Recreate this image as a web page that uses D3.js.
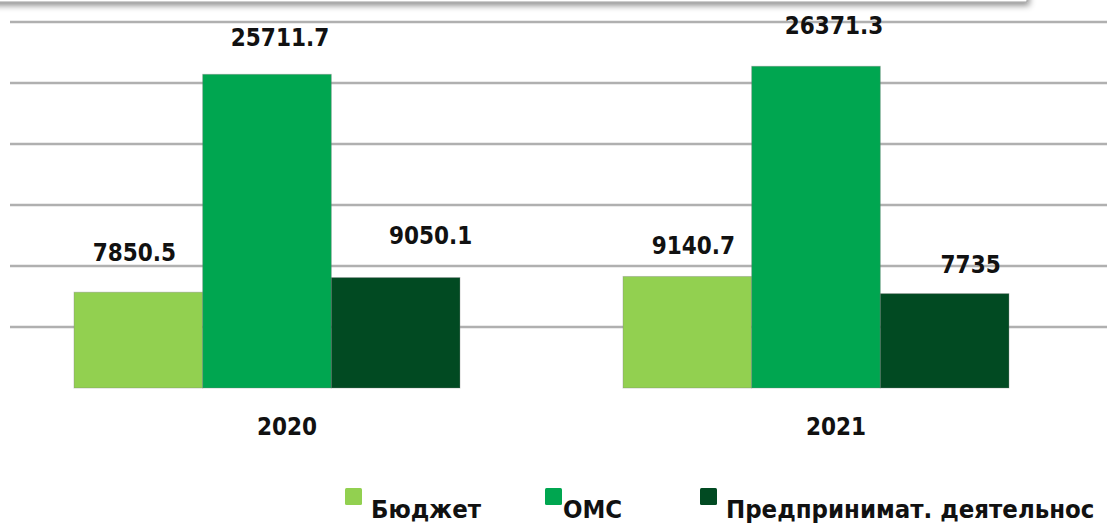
<!DOCTYPE html>
<html lang="ru">
  <head>
    <meta charset="UTF-8" />
    <title>Бюджет / ОМС / Предпринимат. деятельность</title>
    <script src="https://d3js.org/d3.v7.min.js"></script>
    <style>
      body {
        margin: 0;
        background: #fff;
      }
      svg text {
        font-family: "DejaVu Sans Condensed", "DejaVu Sans", sans-serif;
        font-stretch: condensed;
        font-weight: 700;
        fill: #111;
      }
    </style>
  </head>
  <body>
    <svg id="chart" width="1107" height="526"></svg>
    <script>
      // Data
      const years = ["2020", "2021"];
      const series = ["Бюджет", "ОМС", "Предпринимат. деятельнос"];
      const budget = [7850.5, 9140.7];
      const oms = [25711.7, 26371.3];
      const business = [9050.1, 7735];
      const valueLabels = [
        ["7850.5", "25711.7", "9050.1"],
        ["9140.7", "26371.3", "7735"],
      ];
      const yTicks = [5000, 10000, 15000, 20000, 25000, 30000];

      const colors = ["#92d050", "#00a650", "#014a22"];

      // label nudges (the original labels were moved by hand)
      const labelDx = [
        [-4, 13, 35],
        [6, 18, 26],
      ];
      const labelGap = [
        [31, 28, 34],
        [22, 32, 21],
      ];

      const width = 1107;
      const baseY = 388;
      const topY = 22;

      const svg = d3.select("#chart");

      // shadowed frame at the top edge
      const defs = svg.append("defs");
      const shadow = defs
        .append("filter")
        .attr("id", "shadow")
        .attr("x", "-10%")
        .attr("y", "-50%")
        .attr("width", "120%")
        .attr("height", "200%");
      shadow
        .append("feDropShadow")
        .attr("dx", 2)
        .attr("dy", 3)
        .attr("stdDeviation", 3)
        .attr("flood-color", "#000")
        .attr("flood-opacity", 0.45);

      svg
        .append("rect")
        .attr("x", -20)
        .attr("y", -60)
        .attr("width", 1047)
        .attr("height", 62)
        .attr("fill", "#fff")
        .attr("stroke", "#9a9a9a")
        .attr("filter", "url(#shadow)");

      // Scales
      const x = d3
        .scaleBand()
        .domain(years)
        .range([-7.5, 1090.5])
        .paddingInner(0.297)
        .paddingOuter(0.1485);

      const xs = d3.scaleBand().domain(series).range([0, x.bandwidth()]);

      const y = d3.scaleLinear().domain([0, 30000]).range([baseY, topY]);

      // Gridlines
      svg
        .append("g")
        .selectAll("line")
        .data(yTicks)
        .join("line")
        .attr("x1", 10)
        .attr("x2", width)
        .attr("y1", (d) => y(d))
        .attr("y2", (d) => y(d))
        .attr("stroke", "#b0b0b0")
        .attr("stroke-width", 2.5);

      const rows = years.map((yr, i) => ({
        year: yr,
        values: [budget[i], oms[i], business[i]],
      }));

      // Bars
      const groups = svg
        .append("g")
        .selectAll("g")
        .data(rows)
        .join("g")
        .attr("transform", (d) => `translate(${x(d.year)},0)`);

      groups
        .selectAll("rect")
        .data((d) => d.values.map((v, j) => ({ key: series[j], v, j })))
        .join("rect")
        .attr("x", (d) => xs(d.key))
        .attr("y", (d) => y(d.v))
        .attr("width", xs.bandwidth())
        .attr("height", (d) => y(0) - y(d.v))
        .attr("fill", (d) => colors[d.j])
        .attr("stroke", "rgba(120,120,120,0.35)")
        .attr("stroke-width", 1);

      // Value labels
      groups.each(function (row, i) {
        d3.select(this)
          .selectAll("text")
          .data(row.values)
          .join("text")
          .attr("x", (v, j) => xs(series[j]) + xs.bandwidth() / 2 + labelDx[i][j])
          .attr("y", (v, j) => y(v) - labelGap[i][j])
          .attr("text-anchor", "middle")
          .attr("font-size", 24)
          .text((v, j) => valueLabels[i][j]);
      });

      // Category axis labels
      svg
        .append("g")
        .selectAll("text")
        .data(years)
        .join("text")
        .attr("x", (d) => x(d) + x.bandwidth() / 2 + 20)
        .attr("y", 435)
        .attr("text-anchor", "middle")
        .attr("font-size", 24)
        .text((d) => d);

      // Legend
      const legendX = [345, 545, 700];
      const legend = svg
        .append("g")
        .selectAll("g")
        .data(series)
        .join("g")
        .attr("transform", (d, i) => `translate(${legendX[i]},488)`);

      legend
        .append("rect")
        .attr("width", 17)
        .attr("height", 17)
        .attr("rx", 1.5)
        .attr("fill", (d, i) => colors[i]);

      legend
        .append("text")
        .attr("x", (d, i) => (i === 1 ? 18 : 26))
        .attr("y", 30)
        .attr("font-size", 25.5)
        .text((d) => d);
    </script>
  </body>
</html>
